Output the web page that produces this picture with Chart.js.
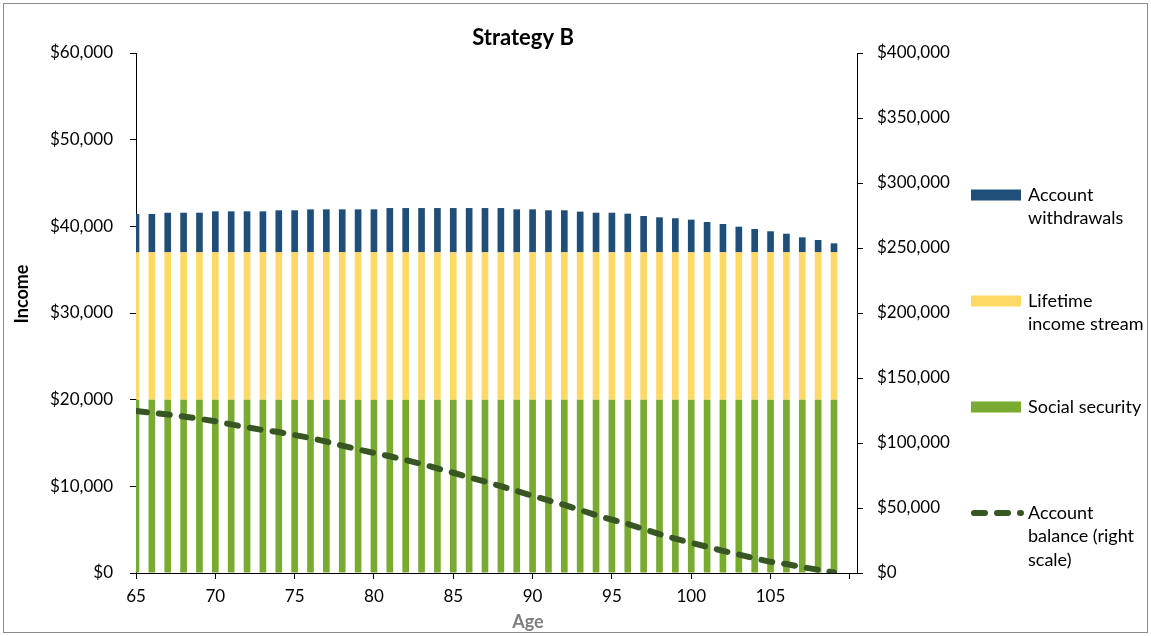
<!DOCTYPE html>
<html>
<head>
<meta charset="utf-8">
<script src="https://cdn.jsdelivr.net/npm/chart.js@4.4.1/dist/chart.umd.min.js"></script>
<style>
  html, body { margin: 0; padding: 0; background: #ffffff; }
  #wrap { width: 1151px; height: 636px; position: relative; }
</style>
</head>
<body>
<div id="wrap"><canvas id="c" width="1151" height="636"></canvas></div>
<script>
// Retirement income by age, Strategy B
const ages = [65, 66, 67, 68, 69, 70, 71, 72, 73, 74, 75, 76, 77, 78, 79,
              80, 81, 82, 83, 84, 85, 86, 87, 88, 89, 90, 91, 92, 93, 94,
              95, 96, 97, 98, 99, 100, 101, 102, 103, 104, 105, 106, 107, 108, 109];

const socialSecurity = [20000, 20000, 20000, 20000, 20000, 20000, 20000, 20000, 20000, 20000,
                        20000, 20000, 20000, 20000, 20000, 20000, 20000, 20000, 20000, 20000,
                        20000, 20000, 20000, 20000, 20000, 20000, 20000, 20000, 20000, 20000,
                        20000, 20000, 20000, 20000, 20000, 20000, 20000, 20000, 20000, 20000,
                        20000, 20000, 20000, 20000, 20000];

const lifetimeIncome = [17000, 17000, 17000, 17000, 17000, 17000, 17000, 17000, 17000, 17000,
                        17000, 17000, 17000, 17000, 17000, 17000, 17000, 17000, 17000, 17000,
                        17000, 17000, 17000, 17000, 17000, 17000, 17000, 17000, 17000, 17000,
                        17000, 17000, 17000, 17000, 17000, 17000, 17000, 17000, 17000, 17000,
                        17000, 17000, 17000, 17000, 17000];

const accountWithdrawals = [4420, 4420, 4570, 4570, 4570, 4730, 4730, 4730, 4730, 4850,
                            4850, 4960, 4960, 4960, 4960, 4960, 5110, 5110, 5110, 5110,
                            5110, 5110, 5110, 5110, 4960, 4960, 4850, 4850, 4700, 4570,
                            4570, 4460, 4190, 4040, 3930, 3770, 3500, 3270, 2960, 2690,
                            2430, 2150, 1730, 1420, 1040];

const accountBalance = [124600, 123200, 121900, 120400, 118600, 116700, 114300, 112100, 110000, 108400,
                        106100, 103900, 101000, 98000, 95100, 92400, 89800, 86900, 83900, 80400,
                        77100, 73600, 70300, 66800, 63100, 59400, 55800, 52400, 48500, 44500,
                        41000, 37700, 33800, 29900, 26400, 23200, 20200, 17000, 14200, 11300,
                        8600, 6900, 4500, 2500, 500];

const incomeTicks = [0, 10000, 20000, 30000, 40000, 50000, 60000];
const balanceTicks = [0, 50000, 100000, 150000, 200000, 250000, 300000, 350000, 400000];
const ageTicks = [65, 70, 75, 80, 85, 90, 95, 100, 105, 110];
const labeledAges = [65, 70, 75, 80, 85, 90, 95, 100, 105];

const legendLines = [
  ['Account', 'withdrawals'],
  ['Lifetime', 'income stream'],
  ['Social security'],
  ['Account', 'balance (right', 'scale)']
];

const FONT = 'Lato, "Noto Sans", sans-serif';
const COL_WITHDRAW = '#1F4E79';
const COL_LIFETIME = '#FFD966';
const COL_SOCIAL = '#7AAB31';
const COL_BALANCE = '#375623';

const toPoints = (vals) => ages.map((a, i) => ({ x: a, y: vals[i] }));
const money = (v) => '$' + Number(v).toLocaleString('en-US');

// Titles, legend and frame drawn on top of the chart
const decorations = {
  id: 'decorations',
  afterDraw(chart) {
    const ctx = chart.ctx;
    ctx.save();

    // frame
    ctx.strokeStyle = '#8C8C8C';
    ctx.lineWidth = 1;
    ctx.strokeRect(3.5, 3.5, chart.width - 7, chart.height - 7);

    // chart title
    ctx.fillStyle = '#000000';
    ctx.font = 'bold 22px ' + FONT;
    ctx.textAlign = 'center';
    ctx.textBaseline = 'middle';
    ctx.fillText('Strategy B', 523, 38);

    // axis titles
    ctx.font = 'bold 18px ' + FONT;
    ctx.fillStyle = '#7F7F7F';
    ctx.fillText('Age', 528, 622);
    ctx.save();
    ctx.translate(22, 294);
    ctx.rotate(-Math.PI / 2);
    ctx.fillStyle = '#000000';
    ctx.font = 'bold 18px ' + FONT;
    ctx.fillText('Income', 0, 0);
    ctx.restore();

    // legend
    const items = [
      { color: COL_WITHDRAW, kind: 'box' },
      { color: COL_LIFETIME, kind: 'box' },
      { color: COL_SOCIAL, kind: 'box' },
      { color: COL_BALANCE, kind: 'line' }
    ];
    const swatchX = 971, swatchW = 50, textX = 1028, firstY = 195, rowGap = 106, lineGap = 23.5;
    ctx.font = '18px ' + FONT;
    ctx.textAlign = 'left';
    items.forEach((it, i) => {
      const y = firstY + i * rowGap;
      if (it.kind === 'box') {
        ctx.fillStyle = it.color;
        ctx.fillRect(swatchX, y - 5.5, swatchW, 11);
      } else {
        ctx.strokeStyle = it.color;
        ctx.lineWidth = 6;
        ctx.lineCap = 'round';
        ctx.setLineDash([11, 12]);
        ctx.beginPath();
        ctx.moveTo(swatchX + 3, y);
        ctx.lineTo(swatchX + swatchW, y);
        ctx.stroke();
        ctx.setLineDash([]);
      }
      ctx.fillStyle = '#000000';
      legendLines[i].forEach((t, k) => ctx.fillText(t, textX, y + k * lineGap));
    });

    ctx.restore();
  }
};

new Chart(document.getElementById('c'), {
  type: 'bar',
  data: {
    datasets: [
      {
        type: 'line',
        label: legendLines[3].join(' '),
        data: toPoints(accountBalance),
        yAxisID: 'y2',
        borderColor: COL_BALANCE,
        borderWidth: 6,
        borderDash: [11, 12],
        borderCapStyle: 'round',
        pointRadius: 0,
        tension: 0,
        order: 0
      },
      {
        label: legendLines[2].join(' '),
        data: toPoints(socialSecurity),
        backgroundColor: COL_SOCIAL,
        stack: 'income',
        clip: 0,
        order: 1
      },
      {
        label: legendLines[1].join(' '),
        data: toPoints(lifetimeIncome),
        backgroundColor: COL_LIFETIME,
        stack: 'income',
        clip: 0,
        order: 1
      },
      {
        label: legendLines[0].join(' '),
        data: toPoints(accountWithdrawals),
        backgroundColor: COL_WITHDRAW,
        stack: 'income',
        clip: 0,
        order: 1
      }
    ]
  },
  options: {
    responsive: false,
    animation: false,
    events: [],
    layout: { padding: { top: 53, left: 0, right: 0, bottom: 0 } },
    datasets: { bar: { barPercentage: 0.42, categoryPercentage: 1 } },
    plugins: { legend: { display: false }, title: { display: false }, tooltip: { enabled: false } },
    scales: {
      x: {
        type: 'linear',
        min: 65,
        max: 110.45,
        offset: false,
        stacked: true,
        afterFit: (s) => { s.height = 63; },
        afterBuildTicks: (s) => { s.ticks = ageTicks.map(v => ({ value: v })); },
        ticks: {
          color: '#000000',
          font: { family: FONT, size: 17 },
          padding: 7,
          maxRotation: 0,
          autoSkip: false,
          callback: (v) => labeledAges.includes(v) ? String(v) : ''
        },
        grid: { offset: false, drawOnChartArea: false, drawTicks: true, tickLength: 6, color: '#000000' },
        border: { color: '#000000', width: 1 }
      },
      y: {
        position: 'left',
        min: 0,
        max: 60000,
        stacked: true,
        afterFit: (s) => { s.width = 136; },
        afterBuildTicks: (s) => { s.ticks = incomeTicks.map(v => ({ value: v })); },
        ticks: { color: '#000000', font: { family: FONT, size: 17 }, padding: 17, callback: money },
        grid: { drawOnChartArea: false, drawTicks: true, tickLength: 6, color: '#000000' },
        border: { color: '#000000', width: 1 }
      },
      y2: {
        position: 'right',
        min: 0,
        max: 400000,
        afterFit: (s) => { s.width = 294; },
        afterBuildTicks: (s) => { s.ticks = balanceTicks.map(v => ({ value: v })); },
        ticks: { color: '#000000', font: { family: FONT, size: 17 }, padding: 14, callback: money },
        grid: { drawOnChartArea: false, drawTicks: true, tickLength: 6, color: '#000000' },
        border: { color: '#000000', width: 1 }
      }
    }
  },
  plugins: [decorations]
});
</script>
</body>
</html>
